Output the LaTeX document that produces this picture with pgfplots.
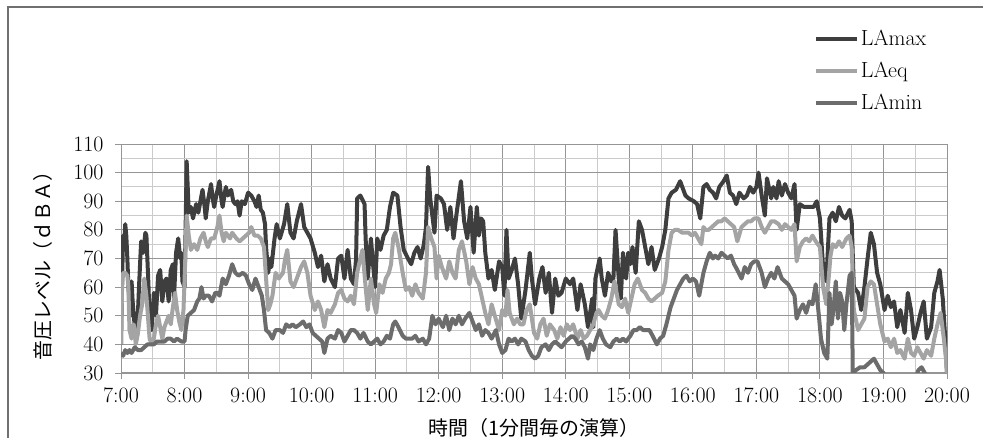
\documentclass[border=0pt]{standalone}
\usepackage{fontspec}
\usepackage{pgfplots}
\pgfplotsset{compat=1.18}
\newfontfamily\jp{Noto Sans CJK JP}
\definecolor{lamaxc}{HTML}{3E3E3E}
\definecolor{laeqc}{HTML}{A4A4A4}
\definecolor{laminc}{HTML}{6C6C6C}
\definecolor{gridmaj}{HTML}{959595}
\definecolor{gridmin}{HTML}{CBCBCB}
\definecolor{framec}{HTML}{707070}
\begin{document}
\begin{tikzpicture}
\path[use as bounding box] (0bp,0bp) rectangle (983bp,438bp);
\draw[framec, line width=2bp] (8bp,0bp) -- (8bp,431bp) -- (983bp,431bp);
\begin{axis}[
    at={(121bp,65bp)}, anchor=south west,
    scale only axis, width=826bp, height=229bp,
    xmin=0, xmax=780, ymin=30, ymax=110,
    xtick={0,60,...,780},
    xticklabels={7:00,8:00,9:00,10:00,11:00,12:00,13:00,14:00,15:00,16:00,17:00,18:00,19:00,20:00},
    minor xtick={30,90,...,750},
    ytick={30,40,...,110},
    minor ytick={35,45,...,105},
    /pgf/number format/assume math mode=true,
    grid=both,
    major grid style={draw=gridmaj, line width=0.9bp},
    minor grid style={draw=gridmin, line width=0.9bp},
    axis line style={draw=gridmaj, line width=1bp},
    axis x line*=bottom, axis y line*=left,
    tick align=outside, major tick length=6bp, minor tick length=0bp,
    tick style={draw=gridmaj, line width=0.9bp},
    ticklabel style={font=\fontsize{22}{26}\selectfont},
    yticklabel shift=8bp,
    xticklabel shift=5bp,
    xlabel={\jp 時間（1分間毎の演算）},
    ylabel={\jp 音圧レベル（ｄＢＡ）},
    xlabel style={font=\fontsize{20}{24}\selectfont, at={(axis description cs:0.5,-0.24)}, anchor=center},
    ylabel style={font=\fontsize{20}{24}\selectfont, at={(axis description cs:-0.0944,0.489)}, anchor=center},
    legend style={at={(0.835,1.515)}, anchor=north west, draw=none, fill=none,
        font=\fontsize{22}{26}\selectfont, row sep=11bp},
    legend cell align=left,
    legend image code/.code={\draw[#1, line width=4bp] (0bp,0bp) -- (41bp,0bp);},
    every axis plot/.append style={line width=4bp, line join=round},
]
\addplot[lamaxc] coordinates {
(0,40) (1,62) (2,78) (3,75) (4,82) (5,78) (6,70) (7,60) (9,50) (10,62) (11,55) (13,46) (15,42) (17,60) (19,76) (21,72) (23,79) (24,78) (26,60) (27,48) (29,45)
(31,58) (33,50) (35,64) (37,66) (39,55) (41,62) (43,63) (45,55) (47,66) (49,68) (50,56) (52,72) (54,77) (56,70) (57,72) (58,62) (60,60) (61,80) (62,104) (63,95) (64,86)
(66,88) (68,84) (71,89) (73,86) (75,90) (77,94) (79,88) (80,84) (82,90) (85,96) (87,90) (88,88) (90,92) (93,97) (95,90) (96,88) (99,95) (101,92) (104,94) (106,90) (108,89)
(110,90) (112,85) (114,90) (117,89) (120,93) (123,92) (126,90) (128,88) (130,92) (132,87) (134,86) (136,82) (137,74) (139,65) (141,70) (142,67) (145,77) (147,82) (150,77)
(154,82) (157,89) (160,79) (163,77) (166,83) (170,89) (173,81) (176,79) (179,77) (183,72) (186,67) (189,71) (192,62) (195,68) (198,63) (202,60) (205,70) (208,71) (211,63)
(214,73) (217,63) (220,61) (222,70) (223,91) (226,92) (230,89) (231,77) (233,63) (236,77) (238,68) (240,60) (242,77) (245,73) (248,78) (251,80) (254,88) (257,93) (261,92)
(264,81) (267,73) (271,70) (274,68) (277,72) (280,74) (283,70) (286,75) (288,81) (290,102) (292,91) (296,79) (298,92) (302,91) (305,89) (308,80) (311,88) (314,77) (317,86)
(321,97) (324,83) (327,77) (330,88) (333,72) (336,88) (338,78) (340,84) (342,83) (344,72) (347,63) (350,66) (353,59) (357,69) (360,67) (362,57) (364,80) (366,63) (369,66)
(372,70) (375,61) (378,49) (382,59) (386,72) (388,63) (391,54) (395,63) (398,67) (401,58) (404,65) (407,51) (410,63) (413,57) (416,58) (420,63) (424,61) (427,63) (431,52)
(434,61) (438,54) (441,46) (445,56) (446,46) (448,63) (452,70) (454,63) (457,57) (460,65) (463,62) (465,63) (467,80) (470,63) (472,56) (474,72) (477,63) (479,72) (481,68)
(483,74) (486,65) (489,83) (492,80) (495,74) (498,68) (501,74) (504,66) (508,70) (511,74) (514,80) (517,91) (520,93) (524,94) (528,97) (533,92) (536,91) (541,90) (544,89)
(547,84) (550,95) (553,96) (556,94) (559,93) (562,91) (565,95) (569,97) (572,99) (575,93) (578,92) (581,89) (584,93) (588,91) (591,92) (594,95) (597,93) (600,95) (602,100)
(605,92) (608,85) (610,98) (614,91) (616,95) (619,91) (621,97) (624,92) (627,96) (630,93) (633,91) (636,96) (638,80) (641,89) (645,88) (649,88) (654,88) (657,90) (660,84)
(663,67) (666,62) (669,84) (672,86) (675,83) (678,88) (681,85) (684,84) (688,87) (690,83) (692,60) (696,58) (699,52) (702,60) (705,70) (708,79) (711,75) (714,65) (717,61)
(721,52) (724,57) (727,53) (730,55) (733,46) (736,52) (740,44) (743,58) (746,52) (749,42) (752,46) (755,51) (758,55) (761,42) (765,46) (768,58) (771,62) (773,66) (776,56)
(778,44) (780,30)
};
\addlegendentry{LAmax}
\addplot[laeqc] coordinates {
(0,40) (1,60) (2,65) (4,65) (6,64) (7,60) (8,45) (10,42) (12,47) (14,40) (16,44) (18,50) (20,54) (22,63) (24,57) (25,52) (27,42) (29,40) (31,42) (33,47) (35,50) (37,46)
(39,42) (41,46) (43,48) (45,50) (47,47) (49,53) (51,58) (53,52) (55,48) (57,45) (59,52) (60,62) (62,85) (64,78) (66,73) (69,75) (72,73) (75,77) (78,79) (80,76) (82,74)
(85,77) (88,77) (91,81) (93,85) (95,79) (97,76) (99,79) (101,78) (103,77) (105,79) (107,78) (109,77) (112,76) (115,77) (118,78) (121,79) (123,81) (126,78) (129,78)
(132,77) (135,74) (137,63) (139,52) (141,54) (143,57) (146,65) (149,63) (153,65) (155,70) (157,73) (160,62) (163,60) (167,64) (170,67) (173,69) (176,65) (179,57)
(183,52) (186,55) (189,52) (192,46) (195,52) (198,51) (202,54) (205,58) (208,59) (211,56) (214,55) (217,57) (220,54) (223,65) (226,70) (228,73) (231,60) (233,52)
(236,63) (239,54) (241,51) (244,61) (247,58) (250,63) (253,65) (255,68) (257,77) (259,79) (262,74) (266,65) (269,59) (272,60) (275,57) (278,61) (281,58) (285,56)
(288,65) (290,81) (293,77) (296,74) (298,63) (300,71) (303,67) (307,63) (310,69) (313,65) (316,63) (319,73) (322,76) (326,69) (329,61) (332,67) (335,63) (338,61)
(341,56) (344,51) (347,47) (350,54) (353,50) (357,45) (360,52) (363,50) (365,59) (367,51) (371,47) (374,49) (377,47) (380,47) (383,52) (386,54) (390,44) (393,42)
(396,47) (399,49) (402,43) (405,47) (409,45) (412,42) (415,46) (418,43) (421,47) (424,45) (427,47) (431,42) (434,45) (437,42) (440,43) (443,45) (446,47) (449,51)
(451,52) (454,50) (457,49) (460,52) (463,56) (466,62) (470,54) (473,53) (476,56) (479,51) (482,56) (485,61) (488,63) (492,59) (495,58) (498,56) (501,55) (504,56)
(507,57) (511,58) (514,62) (517,73) (520,79) (523,80) (526,80) (530,79) (533,79) (536,79) (539,78) (542,79) (545,77) (548,75) (550,81) (552,80) (555,80) (558,81)
(561,82) (564,83) (567,83) (570,84) (573,83) (576,82) (579,81) (582,76) (586,81) (589,82) (592,83) (595,83) (598,84) (602,84) (605,81) (608,79) (611,81) (614,83)
(617,83) (621,82) (624,80) (627,82) (630,81) (633,80) (636,82) (638,69) (641,74) (644,76) (647,77) (650,76) (653,78) (656,76) (660,74) (663,60) (666,54) (668,62)
(670,71) (672,75) (675,74) (678,76) (681,74) (685,77) (688,78) (690,74) (692,52) (696,45) (699,47) (702,49) (705,60) (708,62) (711,61) (714,54) (717,47) (721,41)
(724,42) (727,39) (730,42) (733,37) (736,38) (740,35) (743,42) (746,37) (749,36) (752,39) (755,37) (758,35) (761,38) (765,36) (768,42) (771,47) (774,51) (777,42)
(779,35) (780,30)
};
\addlegendentry{LAeq}
\addplot[laminc] coordinates {
(0,37) (2,36) (4,38) (6,37) (8,38) (10,37) (13,39) (16,38) (19,38) (22,39) (25,40) (28,40) (31,40) (34,41) (38,41) (41,41) (44,42) (47,42) (50,41) (53,42) (57,41)
(60,41) (61,45) (63,50) (66,51) (69,52) (72,55) (74,56) (76,60) (78,56) (80,57) (83,57) (86,55) (89,58) (91,58) (93,57) (96,63) (99,61) (102,64) (105,68) (108,65)
(111,64) (115,65) (118,64) (121,61) (124,59) (127,63) (130,60) (133,57) (135,52) (137,45) (140,44) (143,42) (146,45) (150,45) (153,44) (156,47) (159,46) (162,47)
(165,46) (169,47) (172,48) (175,46) (178,47) (181,44) (184,43) (187,42) (190,41) (192,37) (195,42) (198,43) (202,42) (205,45) (208,44) (211,41) (214,43) (217,45)
(220,45) (223,44) (226,42) (229,44) (233,41) (236,40) (239,41) (242,42) (245,40) (248,41) (251,43) (254,42) (257,47) (259,48) (262,46) (266,43) (269,42) (272,42)
(275,42) (278,43) (281,41) (285,42) (288,40) (291,42) (294,50) (297,47) (300,49) (304,46) (307,50) (310,45) (313,49) (316,47) (319,50) (322,47) (325,49) (329,51)
(332,48) (335,45) (338,47) (341,43) (344,45) (347,44) (350,42) (354,45) (357,40) (360,37) (363,38) (366,42) (369,41) (372,42) (375,40) (378,42) (382,41) (385,38)
(388,36) (391,35) (394,36) (397,39) (401,40) (404,38) (407,40) (410,41) (413,40) (416,39) (420,41) (423,42) (426,43) (429,42) (432,40) (435,41) (438,39) (441,35)
(443,40) (446,38) (449,42) (452,45) (455,42) (458,40) (462,39) (465,41) (468,42) (471,41) (474,42) (477,41) (481,43) (484,45) (487,45) (490,46) (493,45) (496,45)
(499,45) (502,43) (506,40) (509,42) (512,43) (515,47) (519,53) (522,56) (525,59) (528,61) (531,63) (534,64) (537,62) (540,63) (543,62) (546,57) (550,65) (553,69)
(556,72) (559,70) (561,71) (564,70) (567,72) (570,71) (573,70) (576,71) (579,68) (582,66) (586,63) (589,67) (592,65) (595,68) (598,69) (601,69) (605,65) (608,60)
(611,63) (614,65) (617,63) (620,67) (624,63) (627,62) (630,61) (633,59) (636,57) (638,49) (641,52) (644,54) (647,51) (650,55) (653,54) (656,61) (659,50) (661,42)
(664,37) (667,35) (669,58) (671,47) (673,53) (675,62) (677,49) (679,58) (681,55) (683,45) (685,54) (688,64) (690,65) (691,30) (694,31) (698,32) (702,32) (705,33)
(708,34) (711,35) (714,33) (717,31) (720,30) (722,28) (730,28) (740,28) (750,28) (753,31) (756,32) (759,30) (761,28) (780,28)
};
\addlegendentry{LAmin}
\end{axis}
\end{tikzpicture}
\end{document}
